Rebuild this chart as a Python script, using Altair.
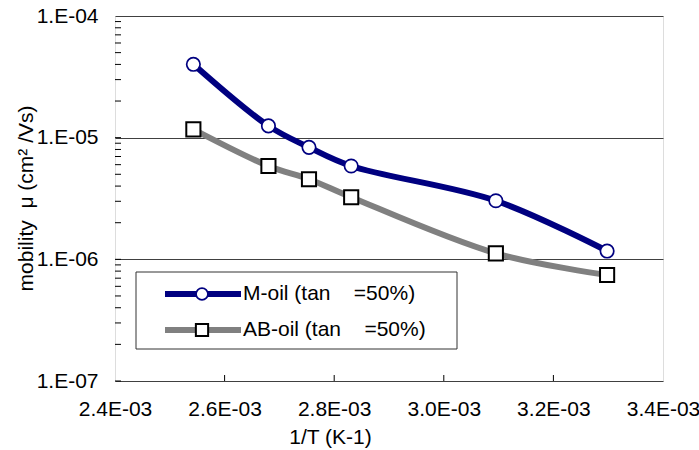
import altair as alt
import pandas as pd

# Data
inv_T = [2.543e-3, 2.680e-3, 2.754e-3, 2.831e-3, 3.095e-3, 3.298e-3]
m_oil = [4.01e-5, 1.25e-5, 8.33e-6, 5.85e-6, 3.03e-6, 1.17e-6]
ab_oil = [1.17e-5, 5.85e-6, 4.55e-6, 3.24e-6, 1.12e-6, 7.43e-7]
NB = "\u00a0"
series_names = ["M-oil (tan" + NB * 4 + "=50%)", "AB-oil (tan" + NB * 4 + "=50%)"]

x_ticks = [2.4e-3, 2.6e-3, 2.8e-3, 3.0e-3, 3.2e-3, 3.4e-3]
x_inner_ticks = [2.6e-3, 2.8e-3, 3.0e-3, 3.2e-3]
y_ticks = [1e-7, 1e-6, 1e-5, 1e-4]
y_minor = [m * 10.0 ** e for e in (-7, -6, -5) for m in range(1, 10)]

W, H = 548, 365
FONT = "Liberation Sans"
FS = 21

df = pd.DataFrame({
    "x": inv_T * 2,
    "y": m_oil + ab_oil,
    "s": [series_names[0]] * len(inv_T) + [series_names[1]] * len(inv_T),
})
df_m = df[df.s == series_names[0]]
df_ab = df[df.s == series_names[1]]

xs = alt.Scale(domain=[2.4e-3, 3.4e-3], nice=False, zero=False)
ys = alt.Scale(type="log", domain=[1e-7, 1e-4], nice=False)

xenc = alt.X("x:Q", scale=xs, axis=alt.Axis(
    values=x_ticks, labelExpr="format(datum.value*1000,'.1f') + 'E-03'",
    title="1/T (K-1)", grid=False, ticks=False, domain=False,
    labelFont=FONT, labelFontSize=FS, labelColor="black", labelPadding=17,
    titleFont=FONT, titleFontSize=FS, titleFontWeight="normal", titleColor="black",
    titleX=215, titleY=56, titleBaseline="middle", titleAnchor="middle", labelFlush=False))
yenc = alt.Y("y:Q", scale=ys, axis=alt.Axis(
    values=y_ticks, labelExpr="'1.E-0' + format(-log(datum.value)/log(10), '.0f')",
    title="mobility" + NB * 2 + "μ (cm² /Vs)", grid=True, gridColor="#404040", gridWidth=1,
    ticks=False, domain=False,
    labelFont=FONT, labelFontSize=FS, labelColor="black", labelPadding=17,
    titleFont=FONT, titleFontSize=FS, titleFontWeight="normal", titleColor="black",
    titleX=-89, titleY=182, titleBaseline="middle", titleAnchor="middle"))

m_line = alt.Chart(df_m).mark_line(color="#000080", strokeWidth=6, interpolate="catmull-rom").encode(x=xenc, y=yenc)
ab_line = alt.Chart(df_ab).mark_line(color="#808080", strokeWidth=6, interpolate="catmull-rom").encode(x=xenc, y=yenc)
m_pts = alt.Chart(df_m).mark_point(shape="circle", filled=True, fill="white", stroke="#000080",
                                   strokeWidth=1.7, size=180, opacity=1).encode(x=xenc, y=yenc)
ab_pts = alt.Chart(df_ab).mark_point(shape="square", filled=True, fill="white", stroke="black",
                                     strokeWidth=2, size=200, opacity=1).encode(x=xenc, y=yenc)

# inward ticks
ytick_df = pd.DataFrame({"y": y_minor})
ytick_layer = alt.Chart(ytick_df).mark_rule(color="black", strokeWidth=1).encode(
    y=alt.Y("y:Q", scale=ys), x=alt.value(0), x2=alt.value(6))
xtick_df = pd.DataFrame({"x": x_inner_ticks})
xtick_layer = alt.Chart(xtick_df).mark_rule(color="black", strokeWidth=1).encode(
    x=alt.X("x:Q", scale=xs), y=alt.value(H), y2=alt.value(H - 6))

# legend (drawn manually)
leg_box = alt.Chart(pd.DataFrame({"a": [0]})).mark_rect(fill="white", stroke="#333333", strokeWidth=1).encode(
    x=alt.value(21), x2=alt.value(342), y=alt.value(256), y2=alt.value(333))
leg_df = pd.DataFrame({"s": series_names, "row": [278, 314]})
leg_line_m = alt.Chart(leg_df.iloc[[0]]).mark_rule(color="#000080", strokeWidth=6).encode(
    x=alt.value(50), x2=alt.value(126), y=alt.value(278))
leg_line_ab = alt.Chart(leg_df.iloc[[1]]).mark_rule(color="#808080", strokeWidth=6).encode(
    x=alt.value(50), x2=alt.value(126), y=alt.value(314))
leg_pt_m = alt.Chart(leg_df.iloc[[0]]).mark_point(shape="circle", filled=True, fill="white", stroke="#000080",
                                                  strokeWidth=1.7, size=140, opacity=1).encode(
    x=alt.value(87), y=alt.value(278))
leg_pt_ab = alt.Chart(leg_df.iloc[[1]]).mark_point(shape="square", filled=True, fill="white", stroke="black",
                                                   strokeWidth=2, size=150, opacity=1).encode(
    x=alt.value(87), y=alt.value(314))
leg_text = alt.Chart(leg_df).mark_text(align="left", baseline="middle", font=FONT, fontSize=FS,
                                       color="black").encode(
    x=alt.value(128), y=alt.Y("row:Q", scale=None), text="s:N")

chart = alt.layer(
    ab_line, m_line, ab_pts, m_pts, ytick_layer, xtick_layer,
    leg_box, leg_line_m, leg_line_ab, leg_pt_m, leg_pt_ab, leg_text,
).properties(
    width=W, height=H,
    autosize=alt.AutoSizeParams(type="none"),
    padding={"left": 115, "top": 16, "right": 36, "bottom": 69},
).configure_view(stroke="black", strokeWidth=1.5).configure(background="white")

chart.save("out.html", embed_options={"renderer": "svg", "actions": False})
